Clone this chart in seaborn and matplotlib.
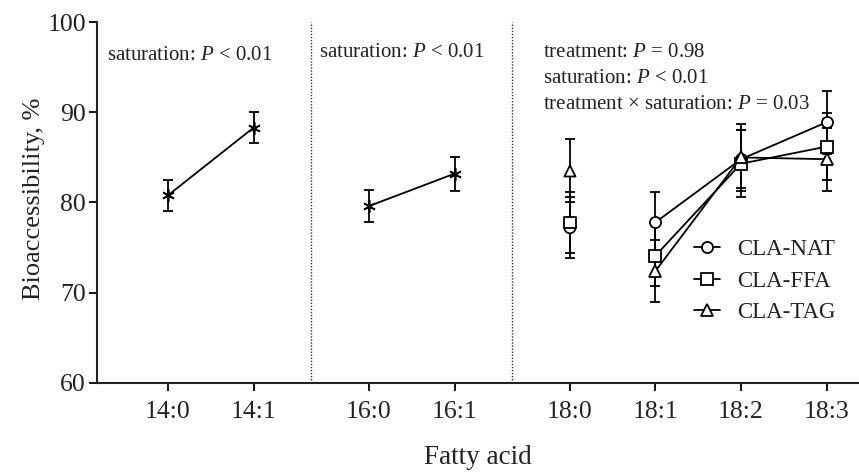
import matplotlib
matplotlib.use("Agg")
import matplotlib.pyplot as plt
from matplotlib.lines import Line2D
import numpy as np
import pandas as pd
import seaborn as sns

# ---- data -------------------------------------------------------------
fatty_acids = ["14:0", "14:1", "16:0", "16:1", "18:0", "18:1", "18:2", "18:3"]

# pooled means (all treatments) for the C14 and C16 pairs
pooled_acids = ["14:0", "14:1", "16:0", "16:1"]
pooled_group = ["C14", "C14", "C16", "C16"]
pooled_mean = [80.8, 88.3, 79.6, 83.2]
pooled_err = [1.7, 1.7, 1.8, 1.9]

# C18 fatty acids per CLA treatment
cla_acids = ["18:0", "18:1", "18:2", "18:3"]
nat_mean = [77.2, 77.8, 84.8, 88.9]
nat_err = [3.4, 3.4, 3.2, 3.5]
ffa_mean = [77.8, 74.1, 84.3, 86.2]
ffa_err = [3.4, 3.4, 3.7, 3.7]
tag_mean = [83.5, 72.4, 85.0, 84.8]
tag_err = [3.5, 3.4, 3.7, 3.5]

treatments = ["CLA-NAT", "CLA-FFA", "CLA-TAG"]
treatment_markers = {"CLA-NAT": "o", "CLA-FFA": "s", "CLA-TAG": "^"}

# ---- style ------------------------------------------------------------
sns.set_theme(style="ticks")
plt.rcParams["font.family"] = ["Liberation Serif", "DejaVu Serif"]
plt.rcParams["mathtext.fontset"] = "custom"
plt.rcParams["mathtext.rm"] = "Liberation Serif"
plt.rcParams["mathtext.it"] = "Liberation Serif:italic"

# x positions: pairs with a wider gap between fatty-acid families
x_pos = dict(zip(fatty_acids, [0, 1, 2.35, 3.35, 4.7, 5.7, 6.7, 7.7]))

pooled = pd.DataFrame({"acid": pooled_acids, "group": pooled_group,
                       "mean": pooled_mean, "err": pooled_err})
pooled["x"] = pooled["acid"].map(x_pos)

rows = []
for name, means, errs in [("CLA-NAT", nat_mean, nat_err),
                          ("CLA-FFA", ffa_mean, ffa_err),
                          ("CLA-TAG", tag_mean, tag_err)]:
    for acid, m, e in zip(cla_acids, means, errs):
        rows.append({"treatment": name, "acid": acid, "mean": m, "err": e})
cla = pd.DataFrame(rows)
cla["x"] = cla["acid"].map(x_pos)

fig = plt.figure(figsize=(8.59, 4.72), dpi=100)
ax = fig.add_axes([0.113, 0.189, 0.887, 0.764])

lw = 1.3
asterisk = (6, 2, 0)
ink = "#222222"

# C14 / C16 pooled lines
ax.errorbar(pooled["x"], pooled["mean"], yerr=pooled["err"], fmt="none",
            ecolor="black", elinewidth=lw, capsize=3.5, capthick=lw, zorder=2)
sns.lineplot(data=pooled, x="x", y="mean", units="group", estimator=None,
             color="black", linewidth=lw, marker=asterisk, markersize=9,
             markeredgewidth=1.2, markeredgecolor="black", ax=ax, zorder=3)

# C18 per treatment: error bars, lines 18:1-18:3, and unconnected 18:0
for t in treatments:
    sub = cla[cla["treatment"] == t]
    ax.errorbar(sub["x"], sub["mean"], yerr=sub["err"], fmt="none",
                ecolor="black", elinewidth=lw, capsize=3.5, capthick=lw, zorder=2)

linked = cla[cla["acid"] != "18:0"]
sns.lineplot(data=linked, x="x", y="mean", style="treatment",
             markers=treatment_markers, dashes=False, color="black",
             linewidth=lw, markersize=8, markerfacecolor="white",
             markeredgecolor="black", markeredgewidth=1.3,
             legend=False, ax=ax, zorder=4)
lone = cla[cla["acid"] == "18:0"]
sns.scatterplot(data=lone, x="x", y="mean", style="treatment",
                markers=treatment_markers, s=64, facecolor="white",
                edgecolor="black", linewidth=1.3, legend=False, ax=ax, zorder=4)

# family dividers
for xd in [(x_pos["14:1"] + x_pos["16:0"]) / 2, (x_pos["16:1"] + x_pos["18:0"]) / 2]:
    ax.axvline(xd, color="#333333", linestyle=(0, (1, 1.2)), linewidth=1.0, zorder=1)

# axes
ax.set_xlim(-0.83, 8.08)
ax.set_ylim(60, 100)
ax.set_yticks([60, 70, 80, 90, 100])
ax.set_xticks([x_pos[a] for a in fatty_acids])
ax.set_xticklabels(fatty_acids)
ax.tick_params(axis="both", direction="out", length=6, width=1.3,
               labelsize=18.5, colors="black", labelcolor=ink)
ax.tick_params(axis="x", pad=7)
ax.tick_params(axis="y", pad=2)
for s in ["top", "right"]:
    ax.spines[s].set_visible(False)
for s in ["left", "bottom"]:
    ax.spines[s].set_linewidth(1.5)
    ax.spines[s].set_color(ink)
ax.set_xlabel("Fatty acid", fontsize=19.5, color=ink, labelpad=16)
ax.set_ylabel("Bioaccessibility, %", fontsize=19, color=ink)
ax.yaxis.set_label_coords(-0.068, 0.51)

# statistics annotations
txt = dict(fontsize=15, color=ink, transform=ax.transData, va="center")
ax.text(-0.71, 96.3, "saturation: $P$ < 0.01", **txt)
ax.text(1.76, 96.6, "saturation: $P$ < 0.01", **txt)
ax.text(4.38, 96.6, "treatment: $P$ = 0.98", **txt)
ax.text(4.38, 93.8, "saturation: $P$ < 0.01", **txt)
ax.text(4.38, 90.9, "treatment × saturation: $P$ = 0.03", **txt)

handles = [Line2D([], [], color="black", linewidth=lw, marker=treatment_markers[t],
                  markersize=8, markerfacecolor="white", markeredgecolor="black",
                  markeredgewidth=1.3) for t in treatments]
ax.legend(handles, treatments, loc="upper left", bbox_to_anchor=(0.763, 0.442),
          frameon=False, fontsize=16.5, handlelength=1.1, handletextpad=0.75,
          labelspacing=0.45, labelcolor=ink, borderpad=0.2)

fig.savefig("out.png", dpi=100, facecolor="white")
